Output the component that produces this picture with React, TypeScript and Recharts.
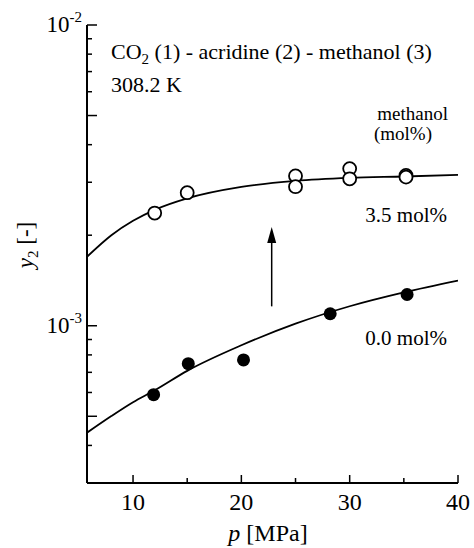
import { ComposedChart, Line, Scatter, XAxis, YAxis, ReferenceLine, ReferenceDot, Customized } from 'recharts';

const FONT = '"Liberation Serif", "Times New Roman", Times, serif';

// measured acridine mole fraction, 3.5 mol% methanol
const pMethanol = [12, 15, 25, 25, 30, 30, 35.2, 35.2];
const yMethanol = [2.37e-3, 2.77e-3, 3.15e-3, 2.9e-3, 3.33e-3, 3.08e-3, 3.16e-3, 3.12e-3];

// measured acridine mole fraction, no methanol
const pPure = [11.9, 15.1, 20.2, 28.2, 35.3];
const yPure = [5.9e-4, 7.48e-4, 7.7e-4, 1.096e-3, 1.27e-3];

// correlated curves
const pCurve = [5.75, 8, 10, 12, 15, 20, 25, 30, 35, 40];
const yCurveMethanol = [1.695e-3, 2.0e-3, 2.233e-3, 2.429e-3, 2.652e-3, 2.895e-3, 3.032e-3, 3.102e-3, 3.135e-3, 3.173e-3];
const yCurvePure = [4.41e-4, 5.01e-4, 5.57e-4, 6.1e-4, 7.08e-4, 8.61e-4, 1.016e-3, 1.161e-3, 1.291e-3, 1.413e-3];

// arrow: p position, tail and tip
const arrowP = 22.8;
const arrowFrom = 1.16e-3;
const arrowTo = 2.13e-3;

const xTicks = [10, 15, 20, 25, 30, 35, 40];
const yTicks = [
  3e-4, 4e-4, 5e-4, 6e-4, 7e-4, 8e-4, 9e-4, 1e-3,
  2e-3, 3e-3, 4e-3, 5e-3, 6e-3, 7e-3, 8e-3, 9e-3, 1e-2,
];

const toPoints = (ps: number[], ys: number[]) => ps.map((p, i) => ({ p, y: ys[i] }));
const methanolPts = toPoints(pMethanol, yMethanol);
const purePts = toPoints(pPure, yPure);
const methanolCurve = toPoints(pCurve, yCurveMethanol);
const pureCurve = toPoints(pCurve, yCurvePure);

const decade = (v: number) => Math.abs(Math.log10(v) - Math.round(Math.log10(v))) < 1e-6;
const mantissa = (v: number) => Math.round(v / Math.pow(10, Math.floor(Math.log10(v) + 1e-9)));

const XTick = (props: any) => {
  const { x, y, payload, top } = props;
  const v = payload.value;
  const len = v % 10 === 0 ? 8 : 5;
  const dir = top ? 1 : -1;
  return (
    <g>
      <line x1={x} x2={x} y1={y} y2={y + dir * len} stroke="#000" strokeWidth={1.5} />
      {!top && v % 10 === 0 && (
        <text x={x} y={y + 27} textAnchor="middle" fontFamily={FONT} fontSize={24} fill="#000">
          {v}
        </text>
      )}
    </g>
  );
};

const YTick = (props: any) => {
  const { x, y, payload, right } = props;
  const v = payload.value;
  const len = decade(v) || mantissa(v) === 5 ? 10 : 5;
  const dir = right ? -1 : 1;
  return (
    <g>
      <line x1={x} x2={x + dir * len} y1={y} y2={y} stroke="#000" strokeWidth={1.5} />
      {!right && decade(v) && (
        <text x={x - 5} y={y + 7} textAnchor="end" fontFamily={FONT} fontSize={23} fill="#000">
          10
          <tspan dy={-10} fontSize={15}>
            {Math.round(Math.log10(v))}
          </tspan>
        </text>
      )}
    </g>
  );
};

const OpenDot = (props: any) => (
  <circle cx={props.cx} cy={props.cy} r={6.5} fill="#fff" stroke="#000" strokeWidth={1.8} />
);
const FilledDot = (props: any) => <circle cx={props.cx} cy={props.cy} r={6.5} fill="#000" />;

const ArrowHead = (props: any) => {
  const { cx, cy } = props;
  return <polygon points={`${cx},${cy} ${cx - 4.5},${cy + 16} ${cx + 4.5},${cy + 16}`} fill="#000" />;
};

const Annotations = () => (
  <g fontFamily={FONT} fill="#000">
    <text x={111} y={59} fontSize={22}>
      CO
      <tspan dy={5} fontSize={15}>2</tspan>
      <tspan dy={-5}> (1) - acridine (2) - methanol (3)</tspan>
    </text>
    <text x={111} y={92} fontSize={22}>308.2 K</text>
    <text x={448} y={120} fontSize={19} textAnchor="end">methanol</text>
    <text x={432} y={140} fontSize={19} textAnchor="end">(mol%)</text>
    <text x={447} y={222} fontSize={21} textAnchor="end">3.5 mol%</text>
    <text x={447} y={345} fontSize={21} textAnchor="end">0.0 mol%</text>
    <text x={268} y={541} fontSize={24} textAnchor="middle">
      <tspan fontStyle="italic">p</tspan> [MPa]
    </text>
    <text transform="translate(33,245) rotate(-90)" fontSize={23} textAnchor="middle">
      <tspan fontStyle="italic">y</tspan>
      <tspan dy={5} fontSize={15}>2</tspan>
      <tspan dy={-5}> [-]</tspan>
    </text>
  </g>
);

export default function App() {
  return (
    <div style={{ position: 'absolute', left: 0, top: 0, width: 474, height: 548, background: '#fff' }}>
      <ComposedChart width={474} height={548} margin={{ top: 25, right: 16, bottom: 0, left: 0 }}>
        <XAxis
          xAxisId="bottom"
          type="number"
          dataKey="p"
          domain={[5.75, 40]}
          ticks={xTicks}
          interval={0}
          allowDataOverflow
          height={65}
          tickSize={0}
          tickMargin={0}
          tickLine={false}
          axisLine={{ stroke: '#000', strokeWidth: 2 }}
          tick={<XTick />}
        />
        <XAxis
          xAxisId="top"
          orientation="top"
          type="number"
          dataKey="p"
          domain={[5.75, 40]}
          ticks={xTicks}
          interval={0}
          allowDataOverflow
          height={0}
          tickSize={0}
          tickMargin={0}
          tickLine={false}
          axisLine={{ stroke: '#000', strokeWidth: 2 }}
          tick={<XTick top />}
        />
        <YAxis
          yAxisId="left"
          type="number"
          scale="log"
          domain={[3e-4, 1e-2]}
          ticks={yTicks}
          interval={0}
          allowDataOverflow
          width={87}
          tickSize={0}
          tickMargin={0}
          tickLine={false}
          axisLine={{ stroke: '#000', strokeWidth: 2 }}
          tick={<YTick />}
        />
        <YAxis
          yAxisId="right"
          orientation="right"
          type="number"
          scale="log"
          domain={[3e-4, 1e-2]}
          ticks={yTicks}
          interval={0}
          allowDataOverflow
          width={0}
          tickSize={0}
          tickMargin={0}
          tickLine={false}
          axisLine={{ stroke: '#000', strokeWidth: 2 }}
          tick={<YTick right />}
        />
        <Line
          xAxisId="bottom"
          yAxisId="left"
          data={methanolCurve}
          dataKey="y"
          type="monotone"
          stroke="#000"
          strokeWidth={1.8}
          dot={false}
          isAnimationActive={false}
        />
        <Line
          xAxisId="bottom"
          yAxisId="left"
          data={pureCurve}
          dataKey="y"
          type="monotone"
          stroke="#000"
          strokeWidth={1.8}
          dot={false}
          isAnimationActive={false}
        />
        <Scatter
          xAxisId="bottom"
          yAxisId="left"
          data={methanolPts}
          dataKey="y"
          shape={<OpenDot />}
          isAnimationActive={false}
        />
        <Scatter
          xAxisId="bottom"
          yAxisId="left"
          data={purePts}
          dataKey="y"
          shape={<FilledDot />}
          isAnimationActive={false}
        />
        <ReferenceLine
          xAxisId="bottom"
          yAxisId="left"
          segment={[
            { x: arrowP, y: arrowFrom },
            { x: arrowP, y: arrowTo * 0.97 },
          ]}
          stroke="#000"
          strokeWidth={1.5}
        />
        <ReferenceDot xAxisId="bottom" yAxisId="left" x={arrowP} y={arrowTo} shape={<ArrowHead />} />
        <Customized component={Annotations} />
      </ComposedChart>
    </div>
  );
}
